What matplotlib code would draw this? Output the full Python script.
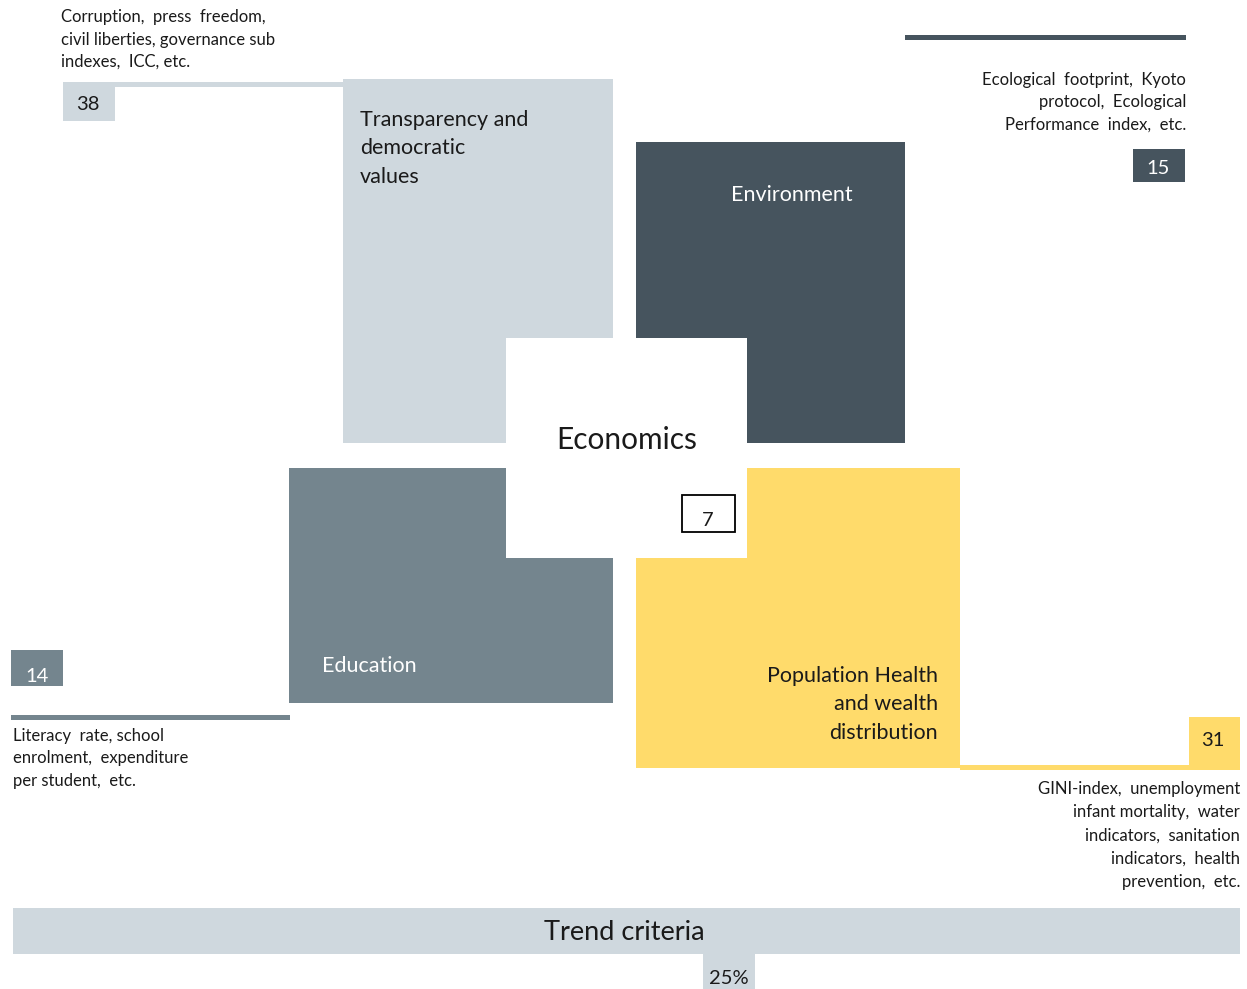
import matplotlib

matplotlib.use("Agg")
import matplotlib.pyplot as plt
from matplotlib.patches import Rectangle

plt.rcParams["font.family"] = ["Lato", "DejaVu Sans"]

# Criteria blocks and their weights
categories = [
    "Transparency and\ndemocratic\nvalues",
    "Environment",
    "Education",
    "Population Health\nand wealth\ndistribution",
]
weights = ["38", "15", "14", "31"]
descriptions = [
    "Corruption,  press  freedom,\ncivil liberties, governance sub\nindexes,  ICC, etc.",
    "Ecological  footprint,  Kyoto\nprotocol,  Ecological\nPerformance  index,  etc.",
    "Literacy  rate, school\nenrolment,  expenditure\nper student,  etc.",
    "GINI-index,  unemployment\ninfant mortality,  water\nindicators,  sanitation\nindicators,  health\nprevention,  etc.",
]
center_label = "Economics"
center_weight = "7"
trend_label = "Trend criteria"
trend_weight = "25%"

LIGHT = "#CFD8DE"
DARK = "#46545E"
MID = "#74858E"
YELLOW = "#FFDB6B"
TXT = "#1a1a1a"

fig = plt.figure(figsize=(12.47, 9.89), dpi=100)
ax = fig.add_axes([0, 0, 1, 1])
ax.set_xlim(0, 1247)
ax.set_ylim(989, 0)
ax.axis("off")


def box(x0, y0, x1, y1, color, **kw):
    ax.add_patch(Rectangle((x0, y0), x1 - x0, y1 - y0, facecolor=color,
                           edgecolor=kw.pop("edgecolor", "none"), **kw))


# quadrant blocks
box(343, 79, 613, 443, LIGHT)
box(636, 142, 905, 443, DARK)
box(289, 468, 613, 703, MID)
box(636, 468, 960, 768, YELLOW)
# white centre for Economics
box(506, 338, 747, 558, "white")

# connectors and weight boxes
box(63, 82, 343, 87, LIGHT)
box(63, 82, 115, 121, LIGHT)
box(905, 35, 1186, 40, DARK)
box(1133, 149, 1185, 182, DARK)
box(11, 650, 63, 686, MID)
box(11, 715, 290, 720, MID)
box(960, 765, 1240, 770, YELLOW)
box(1189, 717, 1240, 768, YELLOW)
box(682, 495, 735, 532, "white", edgecolor="black", linewidth=1.3)

# trend bar
box(13, 908, 1240, 954, LIGHT)
box(703, 954, 755, 989, LIGHT)

small = dict(fontsize=12, color=TXT, linespacing=1.5, va="top")
ax.text(61, 9, descriptions[0], ha="left", **small)
ax.text(1186, 72, descriptions[1], ha="right", multialignment="right", **small)
ax.text(13, 728, descriptions[2], ha="left", **small)
ax.text(1240, 781, descriptions[3], ha="right", multialignment="right",
        **{**small, "linespacing": 1.55})

mid = dict(fontsize=15.5, linespacing=1.52)
ax.text(360, 110, categories[0], ha="left", va="top", color=TXT, **mid)
ax.text(792, 195, categories[1], ha="center", va="center", color="white", **mid)
ax.text(322, 666, categories[2], ha="left", va="center", color="white", **mid)
ax.text(938, 666, categories[3], ha="right", va="top", multialignment="right",
        color=TXT, **mid)

num = dict(fontsize=14.5, ha="center", va="center")
ax.text(88, 105, weights[0], color=TXT, **num)
ax.text(1158, 168, weights[1], color="white", **num)
ax.text(37, 676, weights[2], color="white", **num)
ax.text(1213, 741, weights[3], color=TXT, **num)
ax.text(708, 521, center_weight, color=TXT, **num)

ax.text(627, 440, center_label, fontsize=21.5, ha="center", va="center", color=TXT)
ax.text(624, 933, trend_label, fontsize=19.5, ha="center", va="center", color=TXT)
ax.text(729, 978, trend_weight, fontsize=14.5, ha="center", va="center", color=TXT)

fig.savefig("out.png", dpi=100)
